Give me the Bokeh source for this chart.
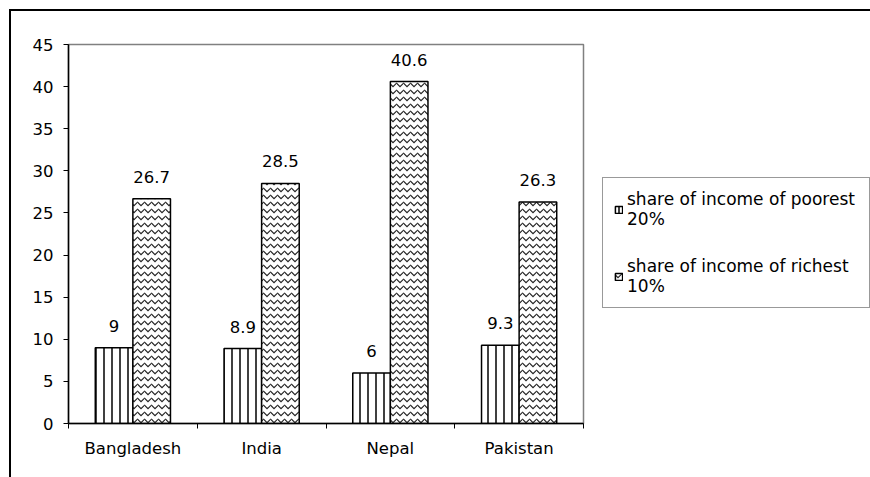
from bokeh.plotting import figure
from bokeh.models import (ColumnDataSource, Range1d, LinearAxis,
                          FixedTicker, Legend, LegendItem, LabelSet)
from bokeh.core.properties import value
from bokeh.transform import dodge
from bokeh.embed import file_html
from bokeh.resources import INLINE

# ---- data ----
countries = ["Bangladesh", "India", "Nepal", "Pakistan"]
poorest_20 = [9.0, 8.9, 6.0, 9.3]
richest_10 = [26.7, 28.5, 40.6, 26.3]
series_names = ["share of income of poorest\n20%", "share of income of richest\n10%"]
y_ticks = [0, 5, 10, 15, 20, 25, 30, 35, 40, 45]

FONT = "DejaVu Sans"
FS = "16.5px"
LFS = "17px"
BAR_W = 0.292
OFF = BAR_W / 2

n = len(countries)
centers = [i + 0.5 for i in range(n)]
src = ColumnDataSource(dict(
    xc=centers,
    country=countries,
    poor=poorest_20,
    rich=richest_10,
    poor_lbl=[f"{v:g}" for v in poorest_20],
    rich_lbl=[f"{v:g}" for v in richest_10],
))

p = figure(x_range=Range1d(0, n),
           y_range=Range1d(y_ticks[0], y_ticks[-1]),
           frame_width=515, frame_height=379,
           output_backend="svg", toolbar_location=None,
           x_axis_location=None,
           min_border_left=57, min_border_top=33, min_border_bottom=54, min_border_right=287)
p.styles = {"border-left": "2px solid black", "border-top": "2px solid black",
            "margin-left": "9px", "margin-top": "9px"}
p.background_fill_color = "white"
p.border_fill_color = "white"
p.outline_line_color = "#808080"
p.outline_line_width = 1.5
p.grid.grid_line_color = None

# y axis
yax = p.yaxis[0]
yax.ticker = FixedTicker(ticks=y_ticks)
yax.major_tick_in = 0
yax.major_tick_out = 5
yax.minor_tick_line_color = None
yax.axis_line_color = "black"
yax.axis_line_width = 1.5
yax.major_tick_line_color = "black"
yax.major_label_text_font = FONT
yax.major_label_text_font_size = FS
yax.major_label_text_color = "black"
yax.major_label_standoff = 10

# x axis: boundary ticks + category labels
tick_axis = LinearAxis(ticker=FixedTicker(ticks=list(range(n + 1))),
                       major_label_overrides={i: "" for i in range(n + 1)},
                       major_label_text_font_size="0px", major_label_standoff=0,
                       axis_line_color="black", axis_line_width=1.5,
                       major_tick_line_color="black", major_tick_in=0, major_tick_out=5,
                       minor_tick_line_color=None)
p.add_layout(tick_axis, "below")
cat_axis = LinearAxis(ticker=FixedTicker(ticks=centers),
                      major_label_overrides={c: name for c, name in zip(centers, countries)},
                      axis_line_color=None, major_tick_line_color=None,
                      minor_tick_line_color=None,
                      major_label_text_font=FONT, major_label_text_font_size=FS,
                      major_label_text_color="black", major_label_standoff=4)
p.add_layout(cat_axis, "below")

r_poor = p.vbar(x=dodge("xc", -OFF), top="poor", width=BAR_W, source=src,
                fill_color="white", line_color="black", line_width=1.5,
                hatch_pattern="vertical_line", hatch_scale=8, hatch_weight=1.5, hatch_color="black")
r_rich = p.vbar(x=dodge("xc", OFF), top="rich", width=BAR_W, source=src,
                fill_color="white", line_color="black", line_width=1.5,
                hatch_pattern="horizontal_wave", hatch_scale=7, hatch_weight=1.2, hatch_color="#222222")

for xoff, ycol, tcol in [(-OFF, "poor", "poor_lbl"), (OFF, "rich", "rich_lbl")]:
    p.add_layout(LabelSet(x=dodge("xc", xoff), y=ycol, text=tcol, source=src,
                          y_offset=16, text_align="center", text_baseline="alphabetic",
                          text_font=value(FONT), text_font_size=value(FS), text_color="black"))

legend = Legend(items=[LegendItem(label=series_names[0], renderers=[r_poor]),
                       LegendItem(label=series_names[1], renderers=[r_rich])],
                location=(19, 115), orientation="vertical", margin=0, padding=11, spacing=27,
                glyph_width=9, glyph_height=9, label_standoff=4, label_width=231,
                label_text_font=FONT, label_text_font_size=LFS,
                label_text_color="black",
                border_line_color="#333333", border_line_width=1,
                background_fill_color="white", background_fill_alpha=1)
p.add_layout(legend, "right")

open("out.html", "w").write(file_html(p, INLINE))
